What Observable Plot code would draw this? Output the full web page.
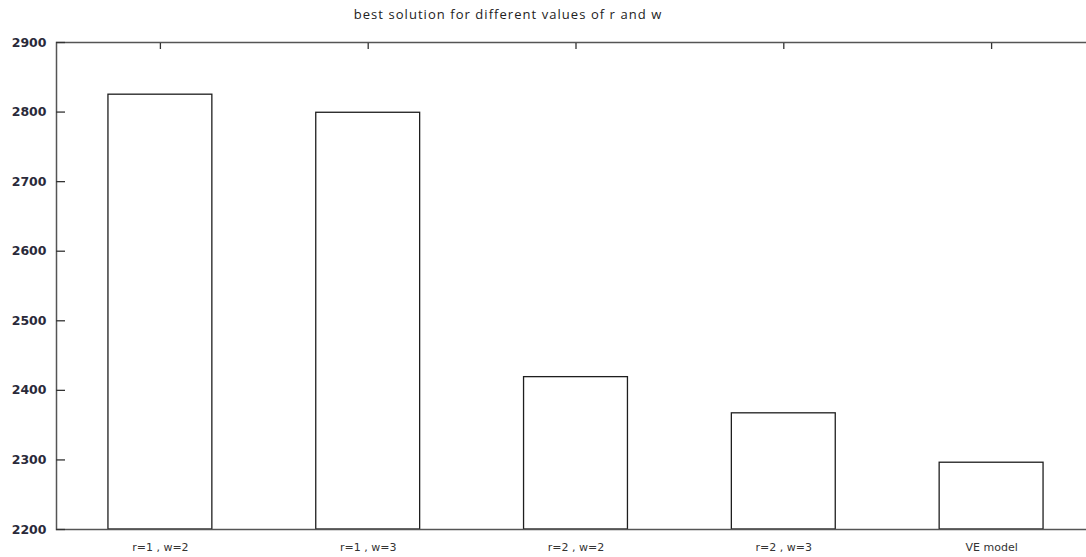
<!DOCTYPE html>
<html>
<head>
<meta charset="utf-8">
<script src="https://cdn.jsdelivr.net/npm/d3@7"></script>
<script src="https://cdn.jsdelivr.net/npm/@observablehq/plot@0.6"></script>
<style>
  html, body { margin: 0; padding: 0; background: #fff; }
  #wrap { position: relative; width: 1086px; height: 557px; overflow: hidden; }
  #title { position: absolute; left: 0; top: 5px; width: 1016px; text-align: center;
           font-family: "Open Sans", sans-serif; font-size: 13px; letter-spacing: 1.05px; color: #222; }
  #chart { position: absolute; left: 0; top: 0; }
  #chart svg { max-width: none !important; }
</style>
</head>
<body>
<div id="wrap">
  <div id="chart"></div>
  <div id="title">best solution for different values of r and w</div>
</div>
<script>
const categories = ["r=1 , w=2", "r=1 , w=3", "r=2 , w=2", "r=2 , w=3", "VE model"];
const values = [2825, 2799, 2419, 2367, 2296];
const yTicks = [2200, 2300, 2400, 2500, 2600, 2700, 2800, 2900];

const data = categories.map((c, i) => ({category: c, value: values[i]}));
const yMin = yTicks[0];
const yMax = yTicks[yTicks.length - 1];

const chart = Plot.plot({
  width: 1095,
  height: 557,
  marginLeft: 56,
  marginRight: 0,
  marginTop: 42,
  marginBottom: 28,
  style: {background: "white", maxWidth: "none"},
  x: {type: "band", domain: categories, paddingInner: 0.5, paddingOuter: 0.25, round: false, label: null},
  y: {domain: [yMin, yMax], label: null},
  marks: [
    Plot.rectY(data, {x: "category", y1: yMin, y2: "value", fill: "white", stroke: "#1e1e1e", strokeWidth: 1.3}),
    Plot.frame({stroke: "#555", strokeWidth: 1.5}),
    // inward tick marks on the left axis
    Plot.axisY({ticks: yTicks, tickSize: 9, dx: 9, tickFormat: () => "", stroke: "#333", strokeWidth: 1.3, label: null}),
    // left tick labels
    Plot.axisY({ticks: yTicks, tickSize: 0, tickPadding: 10, tickFormat: d => String(d),
                fontFamily: "DejaVu Sans", fontSize: 12.5, fontWeight: "bold", fill: "#2a2a3a", label: null}),
    // inward tick marks on the top edge
    Plot.axisX({anchor: "top", tickSize: 6, dy: 6, tickFormat: () => "", stroke: "#333", strokeWidth: 1.3, label: null}),
    Plot.axisX({anchor: "bottom", tickSize: 0, tickPadding: 14, fontFamily: "DejaVu Sans", fontSize: 11,
                fill: "#333", label: null, style: {letterSpacing: "1px"}})
  ]
});
document.getElementById("chart").appendChild(chart);
</script>
</body>
</html>
